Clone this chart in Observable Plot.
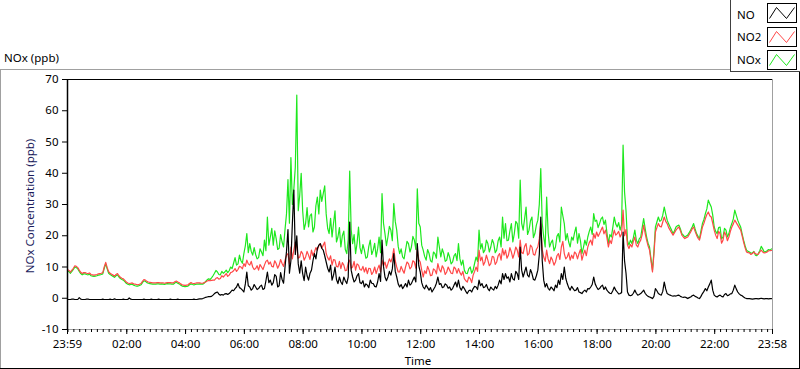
<!DOCTYPE html>
<html><head><meta charset="utf-8">
<script src="https://cdn.jsdelivr.net/npm/d3@7"></script>
<script src="https://cdn.jsdelivr.net/npm/@observablehq/plot@0.6"></script>
<style>
html,body{margin:0;padding:0;background:#fff;}
#chart{position:relative;width:800px;height:369px;overflow:hidden;}
svg text{font-family:"Noto Sans",sans-serif;}
</style></head><body><div id="chart"></div>
<script>
// time axis: minutes from midnight; first sample 23:59 of previous day, one sample every 3 minutes
const startMinute = -1;
const stepMinutes = 3;

// one row of 20 samples per hour
const NO = [
-0.4,-0.4,-0.4,-0.3,-0.3,-0.4,-0.4,-0.4,0.2,-0.3,-0.4,-0.4,-0.4,-0.3,-0.3,-0.4,-0.4,-0.4,-0.4,-0.4,
-0.4,-0.4,-0.4,-0.4,-0.3,-0.4,-0.4,-0.4,-0.4,-0.3,-0.4,-0.4,-0.2,-0.4,-0.4,-0.4,-0.4,-0.4,-0.3,-0.4,
-0.4,-0.4,0.1,-0.3,-0.4,-0.4,-0.4,-0.4,-0.4,-0.4,-0.4,-0.4,-0.3,-0.4,-0.4,-0.4,-0.4,-0.3,-0.4,-0.4,
-0.4,-0.4,-0.3,-0.4,-0.4,-0.4,-0.4,-0.4,-0.4,-0.4,-0.3,-0.4,-0.4,-0.4,-0.4,-0.3,-0.4,-0.4,-0.4,-0.4,
-0.4,-0.4,-0.4,-0.4,-0.4,-0.4,-0.3,-0.4,-0.4,-0.3,-0.2,-0.2,-0.1,0.1,0.3,0.4,0.5,0.5,0.6,1.0,
1.5,1.8,2.0,1.3,1.0,1.2,1.0,1.4,1.5,1.2,1.5,2.0,2.6,2.4,3.1,3.6,4.7,3.4,3.1,2.6,
2.0,4.6,8.4,4.0,3.6,2.6,3.1,4.4,3.6,2.8,3.1,3.8,4.2,2.8,3.1,5.6,8.4,5.0,5.8,4.2,
5.0,7.6,7.0,3.6,4.0,8.2,6.0,4.8,10.0,15.0,22.0,8.0,12.0,24.0,34.6,14.0,20.0,11.0,8.0,12.0,
7.9,5.6,10.0,7.2,5.8,8.0,9.0,12.0,14.3,12.6,15.9,17.0,17.5,16.0,15.4,13.6,11.6,9.6,8.4,10.6,
5.8,7.4,10.0,6.0,4.7,6.8,5.2,4.4,6.8,5.6,4.7,6.8,24.4,9.0,6.8,5.2,5.8,7.2,7.9,5.0,
4.7,5.6,3.6,4.6,4.2,3.4,5.8,4.8,4.7,3.8,3.6,5.2,7.9,5.4,18.6,10.2,6.8,5.6,6.8,8.6,
7.4,9.4,14.3,8.6,6.8,4.6,3.6,4.4,3.1,3.8,4.7,3.6,5.8,4.2,4.7,5.8,6.8,5.2,17.5,10.4,
8.4,5.0,3.6,3.0,4.2,3.4,2.6,3.4,2.0,2.8,3.6,4.8,6.8,4.4,4.7,3.4,3.6,4.6,4.2,3.2,
3.6,2.6,3.1,4.2,5.2,3.6,5.8,3.4,2.6,3.8,3.1,2.2,1.5,2.4,2.6,2.0,3.1,3.8,3.6,2.8,
5.8,4.0,4.7,3.4,3.6,4.4,3.1,2.4,3.6,3.0,2.6,3.8,3.1,4.2,5.8,4.6,7.9,6.0,7.9,6.4,
6.8,5.2,7.9,6.2,5.8,8.6,7.9,6.0,16.4,9.0,6.8,8.4,10.0,7.4,6.8,9.2,7.9,6.0,5.8,7.2,
9.0,14.0,26.0,12.0,5.8,3.6,4.7,3.2,2.6,3.6,3.1,2.4,4.2,3.4,5.8,4.4,7.9,6.0,10.0,6.4,
4.7,3.4,2.6,3.8,3.1,2.4,2.6,3.4,2.0,1.8,1.5,2.2,2.6,2.0,3.1,3.0,3.6,4.4,6.8,4.6,
3.6,2.8,3.1,3.8,4.2,2.8,3.6,2.6,2.0,1.6,1.5,2.4,3.6,2.6,2.0,1.4,1.5,1.8,21.2,12.0,
8.0,2.0,1.0,0.8,1.0,1.6,2.6,1.6,1.0,1.2,1.5,2.0,2.6,1.6,1.0,0.6,0.4,0.2,-0.1,0.6,
3.1,2.4,1.5,1.2,1.0,2.2,5.2,3.0,1.5,1.2,1.0,0.8,0.7,0.8,0.7,0.9,1.0,0.6,0.4,0.3,
0.4,0.2,-0.1,0.2,0.4,0.8,1.0,0.6,0.4,0.1,-0.1,0.6,1.5,2.2,3.1,2.4,3.6,4.6,5.8,2.6,
1.0,0.6,0.4,0.8,1.0,0.6,0.4,1.2,1.5,0.8,1.0,1.4,1.5,2.6,4.2,3.0,2.0,1.4,1.0,0.8,
0.4,0.1,-0.1,-0.1,-0.1,-0.2,-0.3,-0.2,-0.1,-0.1,-0.2,-0.1,0.0,-0.1,-0.2,-0.1,-0.1,-0.2,-0.1,-0.1
];

const NO2 = [
9.2,8.9,8.4,9.0,9.6,10.4,10.2,9.8,9.0,8.3,7.9,8.2,8.2,8.0,7.9,8.1,7.6,7.5,7.4,7.5,
7.6,7.8,7.9,8.0,8.2,10.0,11.5,9.8,8.5,8.0,7.7,7.4,7.1,7.6,7.9,7.2,6.7,6.4,6.2,5.7,
5.2,4.9,4.7,4.8,4.9,4.6,4.5,4.4,4.3,4.5,4.7,5.4,6.0,5.8,5.4,5.2,5.1,5.0,4.9,4.9,
4.9,5.0,5.0,4.9,4.9,4.9,4.8,4.9,5.0,5.0,5.0,4.9,4.9,5.3,5.5,5.2,5.0,4.6,4.3,4.2,
4.1,4.2,4.3,4.7,5.0,4.8,4.7,4.8,4.9,4.9,4.9,4.8,4.8,5.0,5.2,5.5,5.7,5.6,5.7,5.8,
5.8,6.4,6.6,6.1,6.3,7.2,6.8,7.3,7.9,7.0,7.4,8.2,8.4,8.8,9.5,8.6,9.2,10.2,10.0,9.4,
11.1,10.2,12.2,11.0,10.6,11.8,10.0,9.2,9.5,10.4,9.0,10.8,10.0,9.2,10.6,11.8,12.2,10.9,11.6,10.2,
10.0,12.0,11.1,9.6,10.6,12.4,11.1,10.2,12.2,13.8,14.3,11.0,16.4,12.6,15.4,18.0,16.4,12.8,13.2,15.0,
14.3,12.2,13.2,15.0,13.8,12.4,15.4,13.6,14.8,16.2,15.4,16.8,17.5,16.0,17.0,18.0,14.3,13.0,12.2,13.6,
10.6,12.4,12.2,10.2,10.0,11.8,9.5,11.4,10.6,8.8,9.0,11.4,12.2,9.6,10.0,11.8,9.0,11.0,10.6,9.2,
9.0,10.2,8.4,9.8,7.9,9.6,9.5,7.6,8.4,10.0,7.9,9.4,10.6,8.4,12.2,10.4,11.6,9.6,11.1,12.6,
11.6,13.0,15.9,12.0,10.0,8.4,8.4,10.2,9.0,8.0,10.0,11.6,11.1,9.4,10.0,12.0,11.6,9.6,15.9,12.4,
11.6,9.0,6.8,8.8,7.9,10.2,9.0,7.2,7.4,9.4,9.0,7.8,11.1,9.2,8.4,10.4,9.5,7.6,8.4,10.0,
9.0,8.0,7.9,10.0,9.5,8.0,9.5,8.2,7.4,8.6,6.3,5.6,5.2,6.8,6.3,5.0,7.4,8.6,10.0,8.6,
15.4,12.0,13.2,10.6,11.6,13.8,12.2,10.4,11.1,13.4,13.2,10.8,11.6,13.6,14.3,12.2,15.9,13.8,15.4,12.8,
13.8,16.2,14.8,12.8,14.3,16.4,15.4,13.2,18.6,14.6,14.3,16.6,17.5,13.8,14.3,17.0,16.4,14.0,13.8,15.6,
16.4,19.0,23.9,15.6,13.2,11.8,15.4,12.6,11.1,13.2,12.2,10.6,11.6,13.6,14.3,12.4,16.4,18.2,14.3,12.6,
13.2,14.6,12.2,13.8,12.7,14.8,14.3,12.6,14.3,15.6,12.2,14.0,15.4,13.6,16.4,17.8,18.6,17.0,20.7,19.2,
21.2,19.8,20.7,21.8,22.8,20.6,21.8,19.4,16.4,18.6,17.5,19.8,21.8,20.2,20.7,21.4,19.6,20.6,28.2,20.0,
22.0,17.0,15.9,17.2,16.4,18.2,19.6,17.0,16.4,17.8,18.6,20.4,23.4,20.8,18.6,16.8,15.4,12.0,8.4,14.0,
21.2,22.6,23.9,23.0,22.8,24.4,26.0,24.6,23.9,22.6,21.8,21.0,20.2,21.0,21.8,22.4,22.8,21.6,20.2,19.6,
19.1,19.4,19.6,20.4,21.2,22.2,22.8,21.4,20.2,19.2,18.6,20.6,22.8,24.0,25.5,26.8,27.6,26.4,26.0,24.0,
21.8,20.2,19.1,21.4,20.7,17.6,18.6,21.2,20.2,18.4,19.6,21.4,22.8,23.8,25.0,24.2,23.4,22.6,21.8,20.0,
18.0,16.2,14.8,14.6,14.5,14.0,14.3,14.8,14.3,14.0,14.1,14.8,15.4,14.8,14.5,14.6,14.8,15.2,15.2,15.3
];

const NOx = [
8.8,8.5,8.0,8.6,9.2,10.0,9.8,9.4,8.6,7.9,7.5,7.8,7.8,7.6,7.5,7.7,7.2,7.1,7.0,7.1,
7.2,7.4,7.5,7.6,7.8,9.6,11.0,9.4,8.0,7.6,7.3,7.0,6.7,7.2,7.5,6.8,6.3,6.0,5.8,5.3,
4.8,4.5,4.3,4.4,4.5,4.2,4.0,3.9,3.9,4.1,4.3,5.0,5.6,5.4,5.0,4.8,4.7,4.6,4.5,4.5,
4.5,4.6,4.6,4.5,4.6,4.5,4.4,4.6,4.7,4.6,4.6,4.5,4.5,4.9,5.1,4.8,4.6,4.2,3.9,3.8,
3.7,3.8,3.9,4.3,4.6,4.4,4.3,4.4,4.5,4.5,4.6,4.5,4.5,4.8,5.4,5.9,6.2,6.0,6.5,7.2,
8.0,8.9,8.4,7.6,7.5,8.6,8.0,8.4,9.0,8.2,8.8,10.0,9.5,11.2,13.0,10.6,11.0,13.8,12.0,11.2,
14.3,16.8,20.7,14.6,17.5,15.0,13.8,16.2,14.0,12.6,13.0,15.8,14.8,13.6,18.6,15.2,26.0,17.0,19.6,22.4,
17.0,21.6,19.0,15.6,16.0,20.4,18.0,16.4,22.0,27.0,38.0,24.0,45.0,30.0,35.0,42.0,65.0,28.0,33.0,40.0,
28.0,22.0,24.0,29.0,22.8,26.4,27.0,21.2,22.8,29.6,32.4,27.0,34.6,31.0,33.5,36.0,27.0,22.4,20.7,25.6,
19.6,24.0,28.0,18.0,19.6,22.6,16.4,20.0,21.5,15.6,14.3,18.8,40.7,22.0,17.5,20.4,14.3,17.6,22.8,16.2,
14.3,17.2,15.4,12.8,13.2,16.6,18.6,14.0,15.4,17.6,13.2,15.8,19.6,14.6,33.5,24.0,20.7,16.8,19.6,23.0,
21.8,18.4,30.3,24.6,21.8,16.6,14.3,15.8,13.2,12.6,15.4,18.2,17.5,14.8,16.4,19.8,18.6,15.6,35.0,24.0,
22.8,17.0,15.4,13.4,12.2,15.6,14.3,12.0,11.6,14.8,14.3,12.8,19.6,16.4,13.2,15.8,14.3,11.8,12.2,14.6,
13.2,11.0,11.6,13.6,14.3,12.0,17.5,12.6,10.6,12.2,9.0,8.0,7.9,9.4,10.0,8.0,9.0,11.2,13.2,11.8,
21.8,15.8,17.5,14.6,15.4,18.6,17.5,14.8,16.4,18.8,17.5,14.6,15.4,18.4,19.6,16.4,26.0,19.2,23.9,18.4,
18.6,21.6,23.9,18.0,20.7,24.6,23.9,19.2,37.8,24.0,21.8,25.4,29.2,20.4,21.8,24.8,26.0,19.4,20.7,23.4,
25.0,30.0,41.5,24.0,19.6,16.4,32.4,21.0,16.4,17.8,18.6,15.2,16.4,19.8,20.7,18.0,29.2,26.4,23.9,18.6,
20.7,18.0,16.4,19.6,18.6,21.0,22.8,17.6,20.7,18.4,14.3,16.2,18.6,17.0,19.6,21.4,22.8,20.4,27.1,24.6,
25.0,22.6,23.9,25.4,26.0,23.6,25.0,21.0,17.5,20.4,19.6,22.6,26.0,23.8,22.8,24.2,21.8,23.6,49.0,34.0,
28.0,18.4,17.0,18.6,17.5,19.4,21.8,18.6,17.5,19.0,19.6,22.6,25.5,22.4,19.6,17.6,16.4,12.6,9.0,15.0,
22.8,24.4,26.0,24.6,25.0,26.6,29.2,27.0,25.0,23.8,22.8,21.8,20.7,21.6,22.8,23.2,23.4,22.2,20.7,20.2,
19.6,19.9,20.2,21.0,21.8,22.8,23.9,22.2,20.7,19.8,19.1,21.6,23.9,25.2,27.1,28.6,31.4,30.2,29.2,26.6,
22.8,21.4,20.7,22.6,22.8,19.0,19.6,22.4,21.8,19.6,20.7,22.6,23.9,25.4,28.2,26.6,25.0,23.8,22.8,20.6,
18.6,16.8,15.4,15.0,14.8,14.4,14.5,15.0,13.8,13.6,14.3,15.2,16.6,15.8,14.8,14.9,15.2,15.6,15.4,15.8
];

const seriesNames = ["NO", "NO2", "NOx"];
const seriesColors = ["#000000", "#ff4848", "#1ee81e"];
const yTicks = [-10, 0, 10, 20, 30, 40, 50, 60, 70];
const xTickMinutes = [-1, 120, 240, 360, 480, 600, 720, 840, 960, 1080, 1200, 1320, 1438];
const xTickLabels = ["23:59", "02:00", "04:00", "06:00", "08:00", "10:00", "12:00", "14:00", "16:00", "18:00", "20:00", "22:00", "23:58"];
const xDomain = [-1, 1438];
const yDomain = [-10, 70];

const seriesValues = {NO, NO2, NOx};
const rows = [];
for (const s of seriesNames) {
  seriesValues[s].forEach((v, i) => rows.push({series: s, t: startMinute + i * stepMinutes, v}));
}
const minorTicks = d3.range(0, 1438, 12);

const W = 800, H = 369;
const mL = 67, mR = 28, mT = 79, mB = 40;

const lineOpts = {x: "t", y: "v", stroke: "series", strokeWidth: 1.2, curve: "linear", clip: true};
const plot = Plot.plot({
  width: W, height: H,
  marginLeft: mL, marginRight: mR, marginTop: mT, marginBottom: mB,
  style: {fontFamily: "Noto Sans, sans-serif", fontSize: "11.5px", background: "#ffffff", color: "#000", overflow: "visible"},
  x: {domain: xDomain, axis: null},
  y: {domain: yDomain, axis: null},
  color: {domain: seriesNames, range: seriesColors},
  marks: [
    Plot.line(rows.filter(d => d.series === "NOx"), lineOpts),
    Plot.line(rows.filter(d => d.series === "NO2"), lineOpts),
    Plot.line(rows.filter(d => d.series === "NO"), lineOpts),
    Plot.ruleY([yDomain[0]], {stroke: "#a0a0a0"}),
    Plot.ruleX([xDomain[1]], {stroke: "#a0a0a0"}),
    Plot.ruleY([yDomain[1]], {stroke: "#000"}),
    Plot.ruleX([xDomain[0]], {stroke: "#000", strokeWidth: 1.5}),
    Plot.axisY({ticks: yTicks, tickSize: 5, tickPadding: 4, anchor: "left", label: null, tickFormat: d => String(d), fill: "#000"}),
    Plot.axisX({ticks: minorTicks, tickSize: 3, tickFormat: () => "", label: null, anchor: "bottom"}),
    Plot.axisX({ticks: xTickMinutes, tickSize: 5, tickPadding: 5, anchor: "bottom", label: null, tickFormat: (d, i) => xTickLabels[i], fill: "#000"})
  ]
});

document.getElementById("chart").appendChild(plot);
const svg = d3.select(plot);

// outer panel frame
svg.append("line").attr("x1", 0).attr("x2", 730).attr("y1", 69.5).attr("y2", 69.5).attr("stroke", "#a0a0a0");
svg.append("line").attr("x1", 0.5).attr("x2", 0.5).attr("y1", 69).attr("y2", 369).attr("stroke", "#a0a0a0");
svg.append("line").attr("x1", 0).attr("x2", 800).attr("y1", 368.5).attr("y2", 368.5).attr("stroke", "#000");
svg.append("line").attr("x1", 799.5).attr("x2", 799.5).attr("y1", 72).attr("y2", 369).attr("stroke", "#000");

// titles
svg.append("text").attr("x", 4).attr("y", 62).attr("text-anchor", "start").attr("font-size", "11.5px").attr("fill", "#000").text("NOx (ppb)");
svg.append("text").attr("transform", "translate(34,206) rotate(-90)").attr("text-anchor", "middle")
  .attr("font-size", "11.5px").attr("fill", "#1c1c5c").text("NOx Concentration (ppb)");
svg.append("text").attr("x", 418).attr("y", 365).attr("text-anchor", "middle").attr("font-size", "11.5px").attr("fill", "#000").text("Time");

// legend
const lg = svg.append("g");
lg.append("rect").attr("x", 730.5).attr("y", -1).attr("width", 70).attr("height", 72.5).attr("fill", "#fff").attr("stroke", "#404040");
const legendBase = [18.5, 41, 63.5];
const swTop = [3.5, 27.5, 50.5];
seriesNames.forEach((s, i) => {
  lg.append("text").attr("x", 737).attr("y", legendBase[i]).attr("text-anchor", "start").attr("font-size", "11.5px").attr("fill", "#000").text(s);
  const x0 = 767.5, y0 = swTop[i], w = 29, h = 19;
  lg.append("rect").attr("x", x0).attr("y", y0).attr("width", w).attr("height", h).attr("fill", "#fff").attr("stroke", "#000");
  lg.append("polyline")
    .attr("points", [[x0 + 2, y0 + 15], [x0 + 9, y0 + 4], [x0 + 19, y0 + 15], [x0 + 27, y0 + 4]].map(p => p.join(",")).join(" "))
    .attr("fill", "none").attr("stroke", seriesColors[i]).attr("stroke-width", 1);
});
</script></body></html>
